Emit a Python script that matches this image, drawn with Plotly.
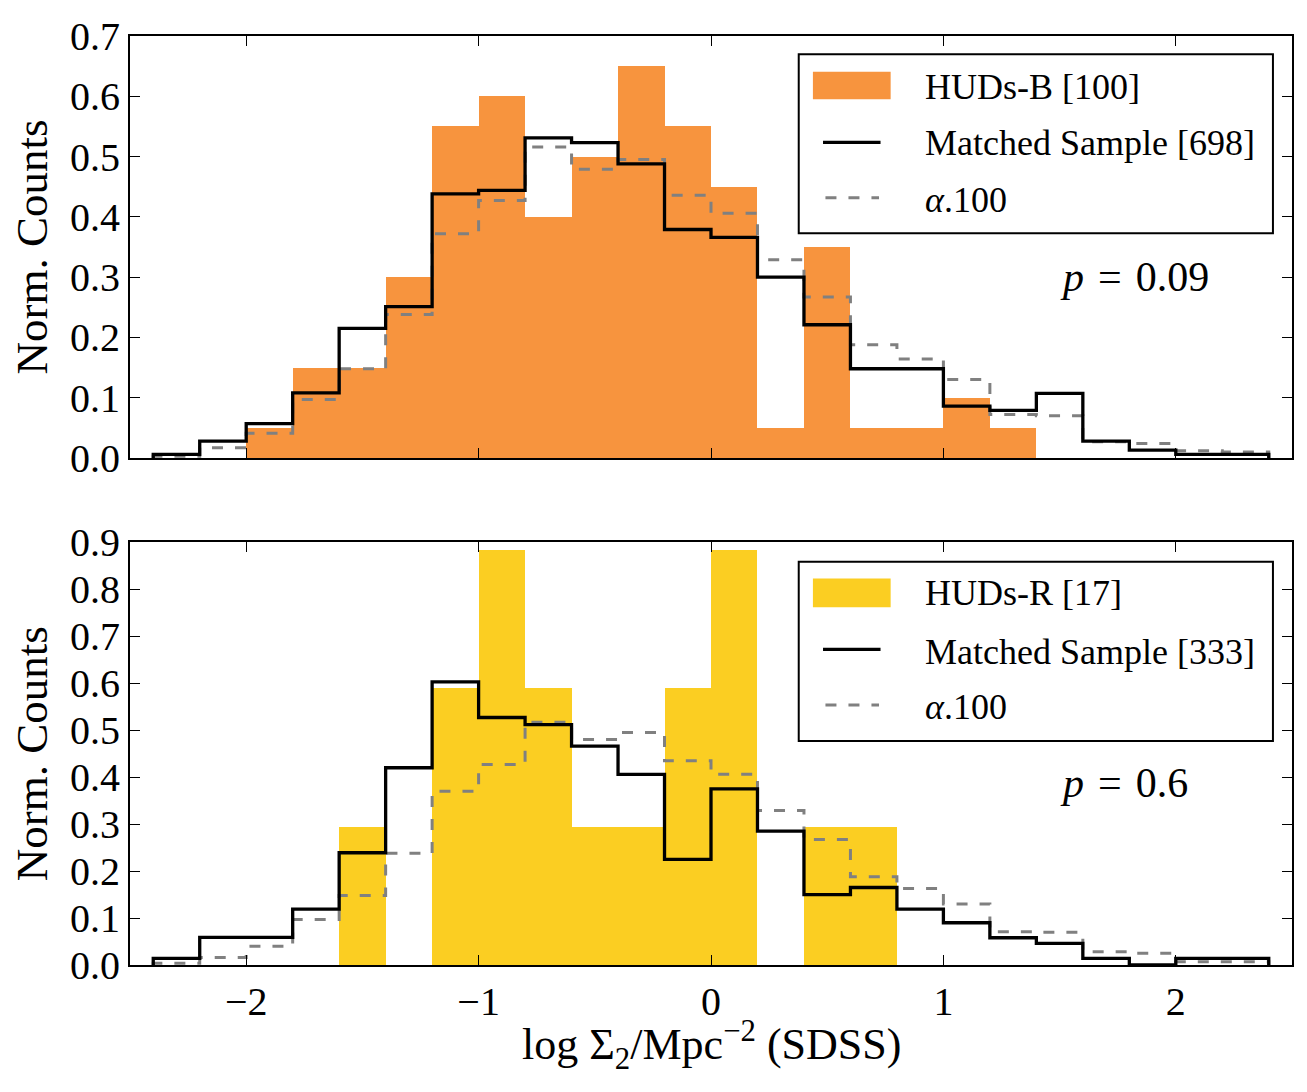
import numpy as np
import plotly.graph_objects as go

# ---------------- data ----------------
bin_edges = np.round(np.linspace(-2.4, 2.4, 25), 2)

huds_b = [0.0, 0.0, 0.05, 0.15, 0.15, 0.30, 0.55, 0.60, 0.40, 0.50, 0.65, 0.55,
          0.45, 0.05, 0.35, 0.05, 0.05, 0.10, 0.05, 0.0, 0.0, 0.0, 0.0, 0.0]
matched_b = [0.006, 0.028, 0.057, 0.108, 0.215, 0.251, 0.438, 0.444, 0.531, 0.523, 0.488, 0.379,
             0.366, 0.300, 0.221, 0.148, 0.148, 0.086, 0.079, 0.107, 0.028, 0.013, 0.006, 0.006]
alpha_b = [0.003, 0.017, 0.041, 0.097, 0.148, 0.238, 0.372, 0.427, 0.516, 0.479, 0.495, 0.436,
           0.406, 0.329, 0.267, 0.188, 0.164, 0.130, 0.072, 0.070, 0.027, 0.024, 0.012, 0.010]

huds_r = [0.0, 0.0, 0.0, 0.0, 0.294, 0.0, 0.589, 0.883, 0.589, 0.294, 0.294, 0.589,
          0.883, 0.0, 0.294, 0.294, 0.0, 0.0, 0.0, 0.0, 0.0, 0.0, 0.0, 0.0]
matched_r = [0.014, 0.059, 0.059, 0.119, 0.239, 0.420, 0.603, 0.527, 0.512, 0.466, 0.406, 0.225,
             0.375, 0.285, 0.150, 0.165, 0.119, 0.090, 0.058, 0.046, 0.014, 0.0, 0.014, 0.014]
alpha_r = [0.004, 0.016, 0.040, 0.097, 0.148, 0.238, 0.370, 0.427, 0.517, 0.480, 0.495, 0.435,
           0.406, 0.329, 0.267, 0.188, 0.163, 0.130, 0.071, 0.070, 0.028, 0.025, 0.007, 0.007]

legend_top = ["HUDs-B [100]", "Matched Sample [698]", "<i>α</i>.100"]
legend_bot = ["HUDs-R [17]", "Matched Sample [333]", "<i>α</i>.100"]
p_top = "<i>p</i>\u2004=\u20040.09"
p_bot = "<i>p</i>\u2004=\u20040.6"
x_title = "log Σ<sub>2</sub>/Mpc<sup>−2</sup> (SDSS)"

ORANGE = "#F7943E"
YELLOW = "#FBCE22"
GRAY = "#808080"
FONT = "Liberation Serif"

centers = (bin_edges[:-1] + bin_edges[1:]) / 2
width = bin_edges[1] - bin_edges[0]


def step_xy(vals):
    xs = [bin_edges[0]] + list(bin_edges[:-1]) + [bin_edges[-1], bin_edges[-1]]
    ys = [0.0] + list(vals) + [vals[-1], 0.0]
    return xs, ys


fig = go.Figure()

for (bars, color, matched, alpha, xa, ya) in [
    (huds_b, ORANGE, matched_b, alpha_b, "x2", "y"),
    (huds_r, YELLOW, matched_r, alpha_r, "x", "y2"),
]:
    fig.add_trace(go.Bar(x=centers, y=bars, width=width, marker=dict(color=color, line=dict(width=0)),
                         xaxis=xa, yaxis=ya, showlegend=False))
    xs, ys = step_xy(alpha)
    fig.add_trace(go.Scatter(x=xs, y=ys, mode="lines", line=dict(color=GRAY, width=3, dash="11px,12px", shape="hv"),
                             xaxis=xa, yaxis=ya, showlegend=False))
    xs, ys = step_xy(matched)
    fig.add_trace(go.Scatter(x=xs, y=ys, mode="lines", line=dict(color="black", width=3.3, shape="hv"),
                             xaxis=xa, yaxis=ya, showlegend=False))

axis_common = dict(showline=True, linecolor="black", linewidth=2, mirror="ticks", ticks="inside",
                   ticklen=10, tickwidth=1.3, tickcolor="black", showgrid=False, zeroline=False,
                   tickfont=dict(family=FONT, size=40, color="black"))

fig.update_layout(
    width=1307, height=1092,
    margin=dict(l=130, r=15, t=36, b=127),
    plot_bgcolor="white", paper_bgcolor="white",
    bargap=0,
    font=dict(family=FONT, color="black"),
    xaxis=dict(range=[-2.5, 2.5], tickvals=[-2, -1, 0, 1, 2], ticktext=["−2", "−1", "0", "1", "2"],
               anchor="y2", **axis_common),
    xaxis2=dict(range=[-2.5, 2.5], tickvals=[-2, -1, 0, 1, 2], showticklabels=False, anchor="y",
                matches="x", **axis_common),
    yaxis=dict(domain=[0.5458, 1.0], range=[0, 0.7], tickvals=[0, 0.1, 0.2, 0.3, 0.4, 0.5, 0.6, 0.7],
               tickformat=".1f", anchor="x2", **axis_common,
               title=dict(text="Norm. Counts", font=dict(family=FONT, size=45), standoff=8)),
    yaxis2=dict(domain=[0.0, 0.455], range=[0, 0.9], tickvals=[0, 0.1, 0.2, 0.3, 0.4, 0.5, 0.6, 0.7, 0.8, 0.9],
                tickformat=".1f", anchor="x", **axis_common,
                title=dict(text="Norm. Counts", font=dict(family=FONT, size=45), standoff=8)),
)

shapes = []
annotations = [dict(text=x_title, xref="paper", yref="paper", x=0.5, y=-0.0861, xanchor="center",
                    yanchor="middle", showarrow=False, font=dict(family=FONT, size=44, color="black"))]
panels = [
    ("x2", "y", legend_top, ORANGE, p_top,
     dict(box=(0.9566, 0.5325), patch=(0.850, 0.9154), black=0.7481, dashed=0.6168,
          text=(0.8799, 0.7464, 0.6114), p=0.4296)),
    ("x", "y2", legend_bot, YELLOW, p_bot,
     dict(box=(0.9541, 0.5299), patch=(0.8465, 0.9144), black=0.7469, dashed=0.6151,
          text=(0.880, 0.7412, 0.6111), p=0.4306)),
]
for xa, ya, labels, color, ptxt, pos in panels:
    xr, yr = xa + " domain", ya + " domain"
    shapes.append(dict(type="rect", xref=xr, yref=yr, x0=0.5755, x1=0.9836, y0=pos["box"][1], y1=pos["box"][0],
                       line=dict(color="black", width=2), fillcolor="white", layer="above"))
    shapes.append(dict(type="rect", xref=xr, yref=yr, x0=0.5877, x1=0.6546, y0=pos["patch"][0], y1=pos["patch"][1],
                       line=dict(width=0), fillcolor=color, layer="above"))
    shapes.append(dict(type="line", xref=xr, yref=yr, x0=0.5964, x1=0.6459, y0=pos["black"], y1=pos["black"],
                       line=dict(color="black", width=3.3), layer="above"))
    shapes.append(dict(type="line", xref=xr, yref=yr, x0=0.5985, x1=0.6446, y0=pos["dashed"], y1=pos["dashed"],
                       line=dict(color=GRAY, width=3, dash="11px,12px"), layer="above"))
    for lab, yy in zip(labels, pos["text"]):
        annotations.append(dict(text=lab, xref=xr, yref=yr, x=0.6822, y=yy, xanchor="left", yanchor="middle",
                                showarrow=False, font=dict(family=FONT, size=36, color="black")))
    annotations.append(dict(text=ptxt, xref=xr, yref=yr, x=0.7985, y=pos["p"], xanchor="left", yanchor="middle",
                            showarrow=False, font=dict(family=FONT, size=42, color="black")))

fig.update_layout(shapes=shapes, annotations=annotations)

fig.write_html("out.html")
